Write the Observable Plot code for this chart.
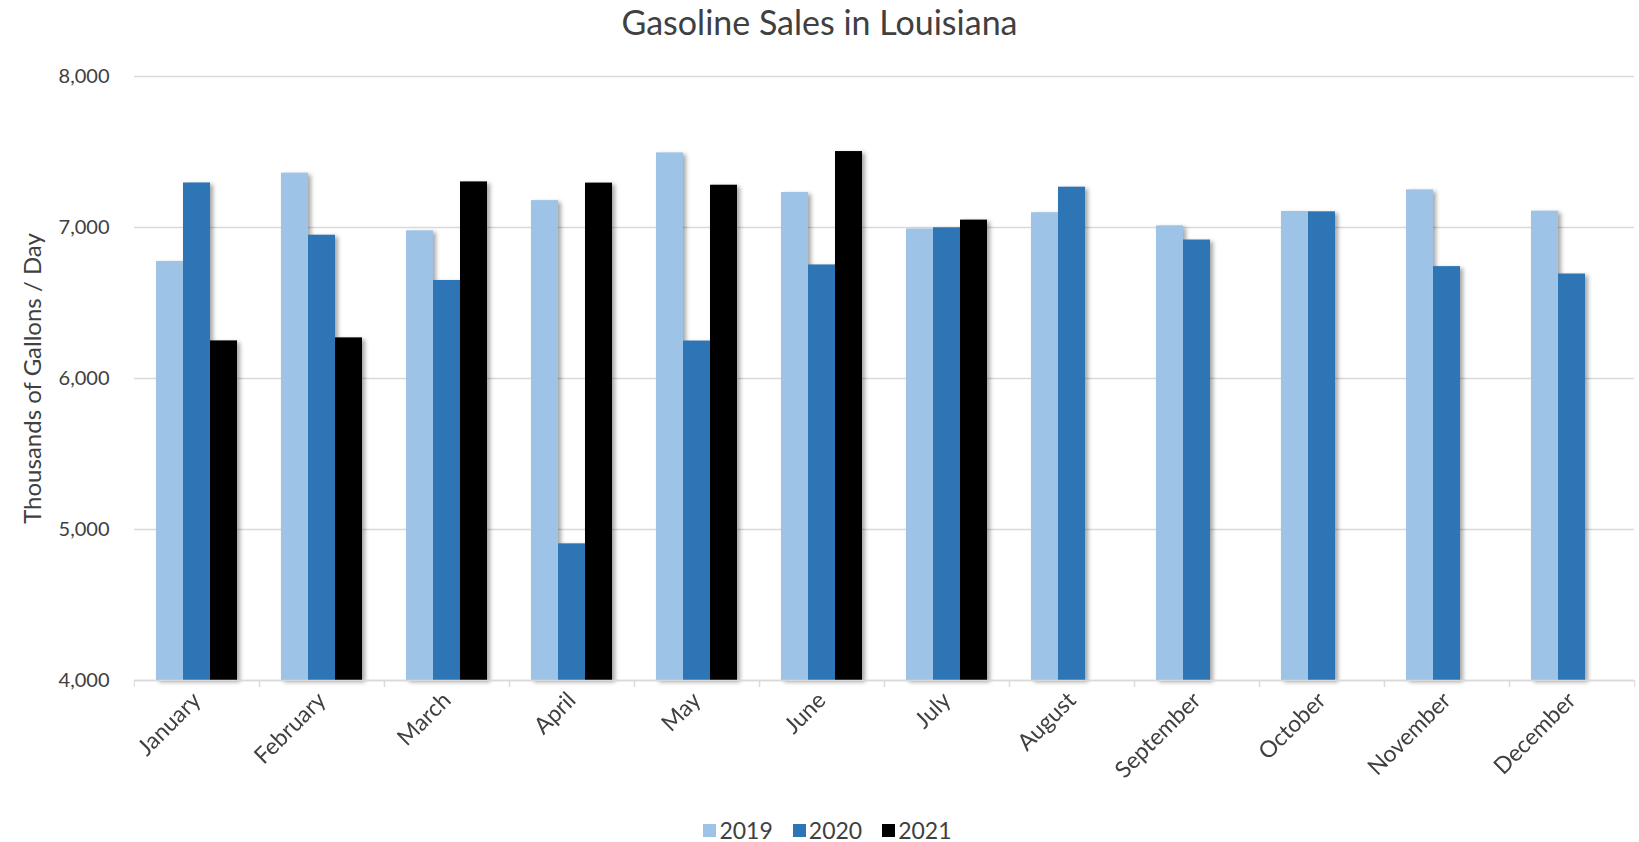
<!DOCTYPE html>
<html><head><meta charset="utf-8">
<script src="https://cdn.jsdelivr.net/npm/d3@7"></script>
<script src="https://cdn.jsdelivr.net/npm/@observablehq/plot@0.6"></script>
<style>
body{margin:0;background:#fff;font-family:Lato,"Open Sans",sans-serif;}
#title{height:44px;line-height:44px;text-align:center;font-size:34px;color:#404040;}
#legend{height:24px;display:flex;justify-content:center;align-items:center;gap:20px;font-size:23px;color:#404040;padding-left:16px;}
#legend .item{display:flex;align-items:center;gap:3px;}
#legend .sw{width:13px;height:13px;display:inline-block;}
</style></head><body>
<div id="title">Gasoline Sales in Louisiana</div>
<div id="chart"></div>
<div id="legend"></div>
<script>
const months = ["January","February","March","April","May","June","July","August","September","October","November","December"];
const years = ["2019","2020","2021"];
const sales2019 = [6775, 7360, 6978, 7178, 7494, 7232, 6990, 7098, 7011, 7106, 7249, 7108];
const sales2020 = [7295, 6949, 6649, 4905, 6248, 6752, 6998, 7267, 6917, 7104, 6741, 6692];
const sales2021 = [6249, 6269, 7302, 7294, 7280, 7503, 7049, null, null, null, null, null];
const yTicks = [4000, 5000, 6000, 7000, 8000];
const colors = ["#9dc3e6", "#2e75b6", "#000000"];

const series = [sales2019, sales2020, sales2021];
const rows = [];
months.forEach((m, i) => series.forEach((s, j) => {
  if (s[i] != null) rows.push({month: m, year: years[j], value: s[i]});
}));

const width = 1639, height = 774, marginLeft = 131, marginRight = 2, marginTop = 32, marginBottom = 138;
const step = (width - marginLeft - marginRight) / months.length;
const fmt = d3.format(",");

const chart = Plot.plot({
  width, height, marginLeft, marginRight, marginTop, marginBottom,
  style: {fontFamily: "Lato, 'Open Sans', sans-serif", fontSize: "20px", color: "#595959", background: "#fff", overflow: "visible"},
  fx: {domain: months, padding: 0, axis: null, label: null},
  x: {domain: years, paddingInner: 0, paddingOuter: 0.783, axis: null},
  y: {domain: [4000, 8000], axis: null},
  color: {domain: years, range: colors},
  marks: [
    Plot.gridY(yTicks, {stroke: "#d9d9d9", strokeOpacity: 1, strokeWidth: 1.3}),
    Plot.axisY({ticks: yTicks, tickSize: 0, tickPadding: 25, tickFormat: fmt, fontSize: 20, fill: "#404040",
      label: "Thousands of Gallons / Day", labelAnchor: "center", labelOffset: 111, labelArrow: false}),
    Plot.barY(rows, {fx: "month", x: "year", y1: 4000, y2: "value", fill: "year"}),
    Plot.ruleY([4000], {stroke: "#d9d9d9", strokeWidth: 1.5}),
    Plot.axisFx({anchor: "bottom", tickSize: 0, tickRotate: -45, tickPadding: 16, fontSize: 23, fill: "#404040", label: null}),
    Plot.axisFx({anchor: "bottom", tickSize: 7, dx: -step / 2, tickFormat: () => "", stroke: "#d9d9d9", label: null}),
    Plot.axisFx({anchor: "bottom", tickSize: 7, dx: step / 2, tickFormat: () => "", stroke: "#d9d9d9", label: null})
  ]
});
d3.select(chart).selectAll('g[aria-label="bar"]').style("filter", "drop-shadow(3px 2px 2px rgba(0,0,0,0.35))");
d3.select(chart).selectAll("text").filter(function() { return this.textContent === "Thousands of Gallons / Day"; })
  .style("font-size", "24px").attr("fill", "#404040");
document.getElementById("chart").appendChild(chart);

const legend = d3.select("#legend");
years.forEach((y, i) => {
  const it = legend.append("div").attr("class", "item");
  it.append("span").attr("class", "sw").style("background", colors[i]);
  it.append("span").text(y);
});
</script>
</body></html>
